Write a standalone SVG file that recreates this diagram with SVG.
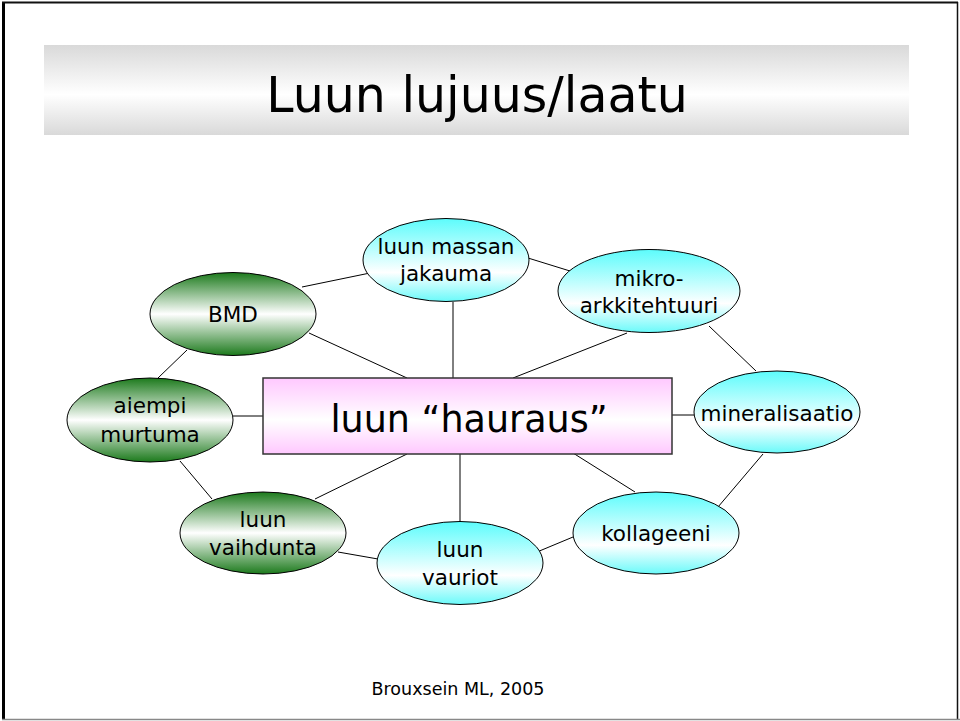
<svg xmlns="http://www.w3.org/2000/svg" width="960" height="721" viewBox="0 0 960 721">
  <defs>
    <linearGradient id="gTitle" x1="0" y1="0" x2="0" y2="1">
      <stop offset="0" stop-color="#d9d9d9"/>
      <stop offset="0.55" stop-color="#ffffff"/>
      <stop offset="1" stop-color="#d9d9d9"/>
    </linearGradient>
    <linearGradient id="gPink" x1="0" y1="0" x2="0" y2="1">
      <stop offset="0" stop-color="#ffc8ff"/>
      <stop offset="0.55" stop-color="#ffffff"/>
      <stop offset="1" stop-color="#ffc8ff"/>
    </linearGradient>
    <linearGradient id="gGreen" x1="0" y1="0" x2="0" y2="1">
      <stop offset="0" stop-color="#1c7a1c"/>
      <stop offset="0.5" stop-color="#ffffff"/>
      <stop offset="1" stop-color="#1c7a1c"/>
    </linearGradient>
    <linearGradient id="gCyan" x1="0" y1="0" x2="0" y2="1">
      <stop offset="0" stop-color="#5cfcfc"/>
      <stop offset="0.65" stop-color="#ffffff"/>
      <stop offset="1" stop-color="#6afafa"/>
    </linearGradient>
  </defs>
  <style>
    text { font-family: "DejaVu Sans", "Open Sans", sans-serif; fill: #000; text-anchor: middle; }
    .lbl { font-size: 21.5px; }
    .green { fill: url(#gGreen); stroke: #000; stroke-width: 1; }
    .cyan { fill: url(#gCyan); stroke: #000; stroke-width: 1; }
    .edge { stroke: #000; stroke-width: 1; fill: none; }
  </style>

  <rect width="960" height="721" fill="#ffffff"/>

  <!-- slide frame -->
  <line x1="3.5" y1="2" x2="3.5" y2="720" stroke="#000" stroke-width="3"/>
  <line x1="2" y1="2.5" x2="958" y2="2.5" stroke="#111" stroke-width="2"/>
  <line x1="957.5" y1="2" x2="957.5" y2="720" stroke="#111" stroke-width="1.5"/>
  <line x1="2" y1="719.5" x2="960" y2="719.5" stroke="#888" stroke-width="1.5"/>

  <!-- title band -->
  <g id="title">
    <rect x="44" y="45" width="865" height="90" fill="url(#gTitle)"/>
    <text x="477" y="112" font-size="49">Luun lujuus/laatu</text>
  </g>

  <!-- connectors -->
  <g id="connectors">
    <line class="edge" x1="302" y1="287" x2="370" y2="273"/>
    <line class="edge" x1="309" y1="333" x2="407" y2="378"/>
    <line class="edge" x1="453" y1="302" x2="453" y2="378"/>
    <line class="edge" x1="528" y1="258" x2="570" y2="271"/>
    <line class="edge" x1="627" y1="333" x2="513" y2="378"/>
    <line class="edge" x1="709" y1="326" x2="756" y2="371"/>
    <line class="edge" x1="672" y1="415" x2="694" y2="415"/>
    <line class="edge" x1="763" y1="454" x2="718" y2="507"/>
    <line class="edge" x1="573" y1="453" x2="635" y2="492"/>
    <line class="edge" x1="460" y1="454" x2="460" y2="522"/>
    <line class="edge" x1="573" y1="537" x2="537" y2="552"/>
    <line class="edge" x1="338" y1="552" x2="378" y2="559"/>
    <line class="edge" x1="407" y1="454" x2="315" y2="499"/>
    <line class="edge" x1="180" y1="461" x2="212" y2="499"/>
    <line class="edge" x1="233" y1="416" x2="263" y2="416"/>
    <line class="edge" x1="187" y1="350" x2="158" y2="378"/>
  </g>

  <!-- central node -->
  <g id="hauraus">
    <rect x="263" y="378" width="409" height="76" fill="url(#gPink)" stroke="#333" stroke-width="1.5"/>
    <text x="469" y="432" font-size="36.5">luun “hauraus”</text>
  </g>

  <g id="massan">
    <ellipse class="cyan" cx="446" cy="260" rx="83" ry="41.5"/>
    <text class="lbl" x="446" y="254">luun massan</text>
    <text class="lbl" x="446" y="281">jakauma</text>
  </g>

  <g id="mikro">
    <ellipse class="cyan" cx="649" cy="291" rx="91" ry="41.5"/>
    <text class="lbl" x="649" y="286">mikro-</text>
    <text class="lbl" x="649" y="313">arkkitehtuuri</text>
  </g>

  <g id="mineralisaatio">
    <ellipse class="cyan" cx="777" cy="412" rx="83" ry="41"/>
    <text class="lbl" x="777" y="421">mineralisaatio</text>
  </g>

  <g id="kollageeni">
    <ellipse class="cyan" cx="656" cy="533" rx="83" ry="41"/>
    <text class="lbl" x="656" y="541">kollageeni</text>
  </g>

  <g id="vauriot">
    <ellipse class="cyan" cx="460" cy="563" rx="83" ry="41.5"/>
    <text class="lbl" x="460" y="557">luun</text>
    <text class="lbl" x="460" y="585">vauriot</text>
  </g>

  <g id="vaihdunta">
    <ellipse class="green" cx="263" cy="533" rx="83" ry="41"/>
    <text class="lbl" x="263" y="527">luun</text>
    <text class="lbl" x="263" y="555">vaihdunta</text>
  </g>

  <g id="murtuma">
    <ellipse class="green" cx="150" cy="420" rx="83" ry="42"/>
    <text class="lbl" x="150" y="413">aiempi</text>
    <text class="lbl" x="150" y="442">murtuma</text>
  </g>

  <g id="bmd">
    <ellipse class="green" cx="233" cy="314" rx="83" ry="41.5"/>
    <text class="lbl" x="233" y="322">BMD</text>
  </g>

  <text x="458" y="695" font-size="17.5">Brouxsein ML, 2005</text>
</svg>
